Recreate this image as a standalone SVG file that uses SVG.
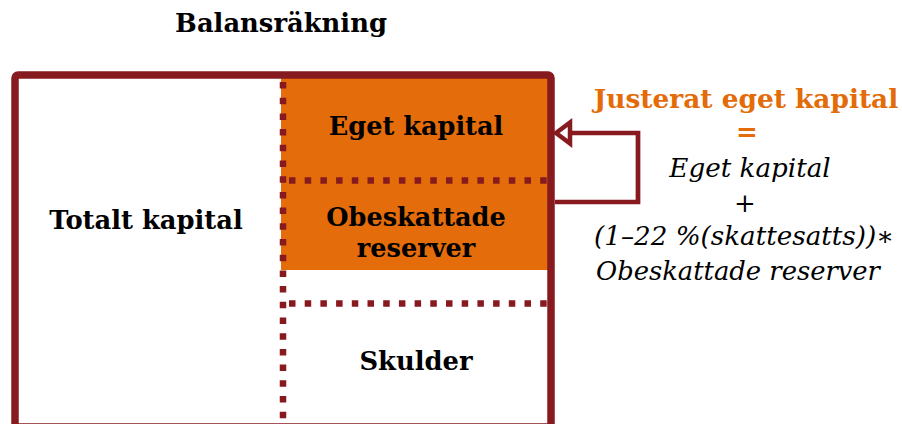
<svg xmlns="http://www.w3.org/2000/svg" width="902" height="424" viewBox="0 0 902 424">
<style>
.b{font-family:"DejaVu Serif","Liberation Serif",serif;font-weight:bold;fill:#000;text-anchor:middle}
.i{font-family:"DejaVu Serif","Liberation Serif",serif;font-style:italic;fill:#000;text-anchor:middle}
.o{fill:#E36C09}
.dot{stroke:#861A1E;stroke-width:6.5;stroke-dasharray:6.5 9.2;fill:none}
</style>
<defs>
<marker id="ah" markerUnits="userSpaceOnUse" markerWidth="24" markerHeight="30" refX="14" refY="12" orient="auto" viewBox="-3 -3 21 30">
<path d="M14,12 L0,1.5 L0,22.5 Z" fill="#fff" stroke="#861A1E" stroke-width="4.5" stroke-linejoin="miter"/>
</marker>
</defs>
<rect width="902" height="424" fill="#fff"/>
<text class="b" x="281" y="32" font-size="25.8">Balansräkning</text>
<g id="balans">
<rect id="orange" x="281" y="78" width="268" height="192" fill="#E46C0A"/>
<g id="eget-kapital"><text class="b" x="416" y="135" font-size="25.6">Eget kapital</text></g>
<g id="obeskattade"><text class="b" x="416" y="226" font-size="25.6">Obeskattade</text><text class="b" x="416" y="257" font-size="25.6">reserver</text></g>
<g id="skulder"><text class="b" x="416" y="370" font-size="25.8">Skulder</text></g>
<g id="totalt"><text class="b" x="146" y="229" font-size="25.8">Totalt kapital</text></g>
<line class="dot" x1="283" y1="82" x2="283" y2="424"/>
<line class="dot" x1="289" y1="180.5" x2="548" y2="180.5"/>
<line class="dot" x1="289" y1="303.5" x2="548" y2="303.5"/>
<rect x="15" y="75" width="536" height="352" rx="3" fill="none" stroke="#861A1E" stroke-width="7.5"/>
</g>
<g id="connectors">
<path d="M555,202 H638 V133 H556" fill="none" stroke="#861A1E" stroke-width="4.7" marker-end="url(#ah)"/>
</g>
<g id="formel">
<text class="b o" x="746" y="108" font-size="26.4">Justerat eget kapital</text>
<text class="b o" x="747" y="141" font-size="26">=</text>
<text class="i" x="750" y="177" font-size="26.2">Eget kapital</text>
<text class="i" x="745" y="212" font-size="26">+</text>
<text class="i" x="744" y="245" font-size="26.2">(1–22 %(skattesatts))∗</text>
<text class="i" x="738" y="280" font-size="25.8">Obeskattade reserver</text>
</g>
</svg>
